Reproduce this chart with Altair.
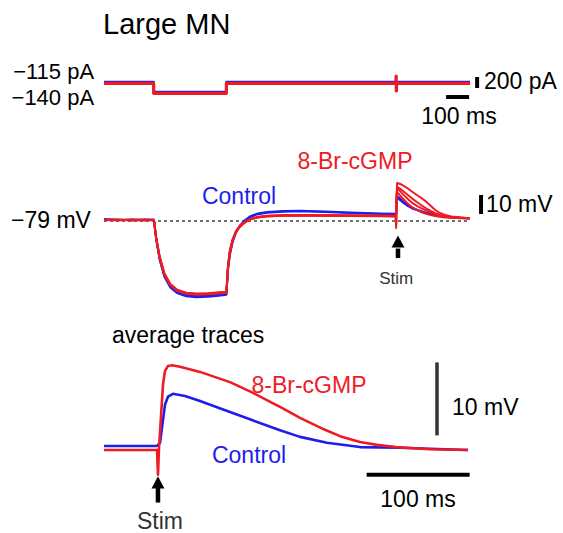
import altair as alt
import pandas as pd

FONT = "Liberation Sans"
BLUE = "#1e1eec"
RED = "#ee1b24"
DARK = "#333333"

# ---------------- top panel: injected current (pA) vs time (ms)
top_t_blue = [0, 216, 216, 532, 532, 1591]
top_i_blue = [-115, -115, -295, -295, -115, -115]
top_t_red = [0, 216, 216, 532, 532, 1269, 1270, 1271, 1272, 1591]
top_i_red = [-140, -140, -320, -320, -140, -140, -6, -279, -140, -140]

# ---------------- middle panel: membrane potential sweeps (mV) vs time (ms)
mid_t = [0, 60, 120, 180, 217, 227, 242, 262, 287, 317, 357, 400, 450, 500, 532,
         539, 547, 559, 574, 590, 611, 634, 669, 708, 780, 852, 960, 1070, 1200,
         1268, 1270, 1271, 1274, 1285, 1300, 1322, 1340, 1360, 1383, 1400, 1420,
         1440, 1460, 1483, 1510, 1550, 1591]
mid_blue_1 = [-78.3, -78.6, -78.2, -78.5, -78.4, -88.4, -98.8, -107.4, -113.0, -116.1, -117.9, -118.5, -118.2, -117.6, -117.2,
              -104.0, -96.0, -89.5, -84.5, -81.5, -78.8, -76.9, -75.4, -74.6, -74.1, -73.9, -74.3, -74.8, -75.3,
              -75.5, -75.5, -71.0, -66.8, -67.8, -69.3, -71.2, -72.4, -73.3, -74.2, -74.8, -75.4,
              -75.9, -76.4, -76.8, -77.1, -77.4, -77.6]
mid_blue_2 = [-78.0, -78.3, -78.6, -78.2, -78.3, -88.8, -99.5, -108.2, -113.8, -116.9, -118.6, -119.1, -118.9, -118.3, -117.8,
              -105.0, -97.0, -90.2, -85.0, -81.8, -78.9, -76.6, -75.0, -74.2, -73.7, -73.6, -74.0, -74.5, -75.0,
              -75.2, -75.2, -70.5, -65.8, -66.9, -68.6, -70.8, -72.0, -73.0, -74.0, -74.6, -75.2,
              -75.7, -76.2, -76.7, -77.0, -77.3, -77.5]
mid_red_1 = [-78.5, -78.2, -78.7, -78.4, -78.6, -88.0, -98.0, -106.6, -112.2, -115.3, -116.9, -117.4, -117.2, -116.7, -116.4,
             -103.0, -95.0, -89.0, -84.5, -82.0, -79.8, -78.2, -77.1, -76.6, -76.3, -76.2, -76.3, -76.4, -76.5,
             -76.6, -82.7, -70.0, -62.0, -63.0, -65.0, -67.6, -69.5, -71.0, -72.5, -73.4, -74.5,
             -75.4, -76.1, -76.7, -77.1, -77.4, -77.6]
mid_red_2 = [-78.3, -78.5, -78.3, -78.6, -78.4, -88.3, -98.4, -107.0, -112.6, -115.7, -117.3, -117.8, -117.6, -117.1, -116.8,
             -103.5, -95.5, -89.3, -84.8, -82.2, -79.9, -78.0, -76.8, -76.2, -75.9, -75.8, -75.9, -76.0, -76.1,
             -76.2, -80.5, -70.0, -63.8, -65.2, -67.3, -70.0, -71.8, -73.2, -74.5, -75.2, -75.9,
             -76.4, -76.8, -77.1, -77.3, -77.5, -77.7]
mid_red_3 = [-78.6, -78.4, -78.5, -78.7, -78.5, -87.8, -97.7, -106.3, -112.0, -115.1, -116.7, -117.2, -117.0, -116.5, -116.2,
             -102.6, -94.6, -88.7, -84.2, -81.7, -79.6, -78.0, -77.0, -76.5, -76.2, -76.1, -76.2, -76.3, -76.4,
             -76.5, -81.0, -68.0, -59.0, -59.4, -60.3, -62.0, -63.6, -65.3, -67.2, -68.8, -71.0,
             -73.2, -74.8, -75.8, -76.6, -77.2, -77.5]
mid_red_4 = [-78.4, -78.6, -78.4, -78.3, -78.5, -88.1, -98.2, -106.8, -112.4, -115.5, -117.1, -117.6, -117.4, -116.9, -116.6,
             -103.2, -95.2, -89.1, -84.6, -82.1, -79.7, -78.1, -77.0, -76.4, -76.1, -76.0, -76.1, -76.2, -76.3,
             -76.4, -79.5, -69.0, -61.0, -61.8, -63.2, -65.4, -67.2, -69.0, -71.0, -72.3, -73.7,
             -74.9, -75.8, -76.4, -76.9, -77.3, -77.6]

# ---------------- bottom panel: average traces (mV) vs time (ms)
avg_t_red = [0, 25, 51.5, 52.4, 53.4, 55.5, 57.3, 59.2, 62.0, 66.0, 73.8, 93.2, 122.3, 143.7,
             160.0, 170.9, 190.3, 214.0, 229.1, 248.5, 265.0, 283.5, 316.5, 353.4]
avg_v_red = [-77.0, -77.0, -77.0, -80.4, -76.8, -72.0, -68.0, -66.2, -65.5, -65.4, -65.6, -66.3, -67.7, -69.1,
             -70.3, -71.1, -72.6, -74.2, -75.1, -75.9, -76.3, -76.6, -76.9, -77.0]
avg_t_blue = [0, 25, 51.5, 54.4, 57.3, 59.2, 62.1, 67.0, 78.6, 93.2, 122.3, 143.7, 170.9, 190.3,
              216.5, 248.5, 287.4, 353.4]
avg_v_blue = [-76.45, -76.45, -76.45, -76.0, -72.9, -70.8, -69.7, -69.3, -69.6, -70.3, -71.8, -72.9, -74.3, -75.2,
              -76.0, -76.6, -76.7, -77.0]

# ---------------- annotations
top_labels = ["Large MN", "−115 pA", "−140 pA", "200 pA", "100 ms"]
top_lab_t = [-4, -43, -43, 1652, 1543]
top_lab_v = [921, 58, -406, -115, -751]
top_lab_align = ["left", "right", "right", "left", "center"]
top_lab_size = [29, 22, 22, 23, 23]

mid_labels = ["8-Br-cGMP", "Control", "−79 mV", "10 mV", "Stim"]
mid_lab_t = [1091, 587, -57, 1661, 1270]
mid_lab_v = [-47.9, -66.4, -79.0, -70.6, -109.3]
mid_lab_align = ["center", "center", "right", "left", "center"]
mid_lab_size = [23, 23, 23, 23, 17]
mid_lab_color = [RED, BLUE, "black", "black", DARK]

bot_labels = ["average traces", "8-Br-cGMP", "Control", "10 mV", "100 ms", "Stim"]
bot_lab_t = [7.8, 199.0, 140.8, 337.9, 304.9, 54.4]
bot_lab_v = [-61.4, -68.3, -77.8, -71.25, -83.85, -86.86]
bot_lab_align = ["left", "center", "center", "left", "center", "center"]
bot_lab_color = ["black", RED, BLUE, "black", "black", DARK]

# scale bars (value units of each panel)
top_bar_pa = [1622, -224, -24]          # t, v1, v2
top_bar_ms = [1487, 1587, -388]         # t1, t2, v
mid_bar_mv = [1639, -75.3, -65.3]
bot_bar_mv = [323.3, -75.0, -65.0]
bot_bar_ms = [255.0, 355.0, -80.4]
mid_baseline = [0, 1591, -79.0]
mid_arrow = [1278, -90.6, -93.5, -98.5]   # t, head centre, shaft top, shaft bottom
bot_arrow = [52.4, -81.64, -82.0, -84.2]


def scales(panel):
    if panel == "top":
        return (alt.Scale(domain=[0, 1591], range=[104, 470], nice=False, zero=False),
                alt.Scale(domain=[-315, -115], range=[93, 82], nice=False, zero=False))
    if panel == "mid":
        return (alt.Scale(domain=[0, 1591], range=[104, 470], nice=False, zero=False),
                alt.Scale(domain=[-89, -79], range=[240, 221], nice=False, zero=False))
    return (alt.Scale(domain=[0, 100], range=[104, 207], nice=False, zero=False),
            alt.Scale(domain=[-77, -67], range=[450, 377], nice=False, zero=False))


def xy(panel, xf="t", yf="v"):
    xs, ys = scales(panel)
    return dict(x=alt.X(f"{xf}:Q", scale=xs, axis=None),
                y=alt.Y(f"{yf}:Q", scale=ys, axis=None))


def trace(panel, t, v, color, width):
    df = pd.DataFrame({"t": t, "v": v, "i": list(range(len(t)))})
    return alt.Chart(df).mark_line(color=color, strokeWidth=width, strokeJoin="round").encode(
        order="i:Q", **xy(panel))


def vbar(panel, spec, color="black", width=4):
    df = pd.DataFrame({"t": [spec[0]], "v": [spec[1]], "v2": [spec[2]]})
    return alt.Chart(df).mark_rule(color=color, strokeWidth=width).encode(
        y2="v2:Q", **xy(panel))


def hbar(panel, spec, color="black", width=4, dash=None):
    df = pd.DataFrame({"t": [spec[0]], "t2": [spec[1]], "v": [spec[2]]})
    kw = dict(color=color, strokeWidth=width)
    if dash:
        kw["strokeDash"] = dash
    return alt.Chart(df).mark_rule(**kw).encode(x2="t2:Q", **xy(panel))


def arrow(panel, spec):
    shaft = pd.DataFrame({"t": [spec[0]], "v": [spec[2]], "v2": [spec[3]]})
    head = pd.DataFrame({"t": [spec[0]], "v": [spec[1]]})
    s = alt.Chart(shaft).mark_rule(color="black", strokeWidth=4.5).encode(y2="v2:Q", **xy(panel))
    h = alt.Chart(head).mark_point(shape="M0,-1L0.85,0.6L-0.85,0.6Z", size=230, filled=True,
                                   color="black", opacity=1, strokeWidth=0).encode(**xy(panel))
    return [s, h]


def labels(panel, texts, ts, vs, aligns, sizes, colors):
    out = []
    for txt, t, v, a, sz, c in zip(texts, ts, vs, aligns, sizes, colors):
        df = pd.DataFrame({"t": [t], "v": [v], "label": [txt]})
        out.append(alt.Chart(df).mark_text(align=a, baseline="middle", font=FONT, fontSize=sz,
                                           color=c).encode(text="label:N", **xy(panel)))
    return out


layers = []
# top
layers.append(trace("top", top_t_blue, top_i_blue, BLUE, 2.4))
layers.append(trace("top", top_t_red, top_i_red, RED, 3.2))
layers.append(vbar("top", top_bar_pa, width=4))
layers.append(hbar("top", top_bar_ms, width=4))
layers += labels("top", top_labels, top_lab_t, top_lab_v, top_lab_align, top_lab_size,
                 ["black"] * len(top_labels))
# middle
layers.append(hbar("mid", mid_baseline, color="#444444", width=1.5, dash=[3, 3]))
for sweep in (mid_blue_1, mid_blue_2):
    layers.append(trace("mid", mid_t, sweep, BLUE, 2.0))
for sweep in (mid_red_3, mid_red_4, mid_red_1, mid_red_2):
    layers.append(trace("mid", mid_t, sweep, RED, 2.0))
layers.append(vbar("mid", mid_bar_mv, width=4))
layers += arrow("mid", mid_arrow)
layers += labels("mid", mid_labels, mid_lab_t, mid_lab_v, mid_lab_align, mid_lab_size, mid_lab_color)
# bottom
layers.append(trace("bot", avg_t_blue, avg_v_blue, BLUE, 2.6))
layers.append(trace("bot", avg_t_red, avg_v_red, RED, 2.6))
layers.append(vbar("bot", bot_bar_mv, color=DARK, width=3.5))
layers.append(hbar("bot", bot_bar_ms, width=4))
layers += arrow("bot", bot_arrow)
layers += labels("bot", bot_labels, bot_lab_t, bot_lab_v, bot_lab_align, [23] * 6, bot_lab_color)

chart = alt.layer(*layers).resolve_scale(x="independent", y="independent").properties(
    width=563, height=533, padding=0, background="white",
    autosize=alt.AutoSizeParams(type="none"),
).configure_view(stroke=None)

chart.save("out.html", embed_options={"renderer": "svg", "actions": False})
